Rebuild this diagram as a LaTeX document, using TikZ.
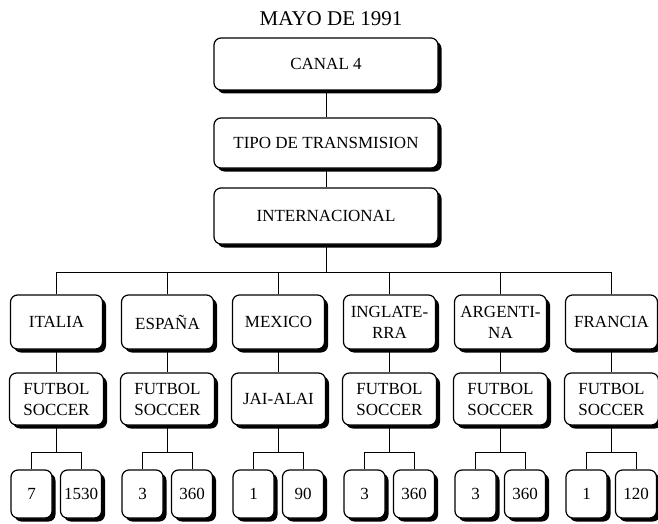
\documentclass[tikz,border=0pt]{standalone}
\usepackage{fontspec}
\setmainfont{Liberation Serif}
\usetikzlibrary{shadows}
\begin{document}
\begin{tikzpicture}[x=1pt,y=-1pt,
  box/.style={draw, line width=1.2pt, rounded corners=7pt, fill=white, align=center,
    inner sep=0pt, font=\fontsize{17}{21}\selectfont,
    drop shadow={shadow xshift=3.5pt, shadow yshift=-3.5pt, fill=black, opacity=1}},
  topbox/.style={box, minimum width=224pt},
  cbox/.style={box, minimum width=92pt, minimum height=54pt},
  sbox/.style={box, minimum width=94pt, minimum height=52pt},
  nbox/.style={box, minimum width=41pt, minimum height=48pt},
  conn/.style={line width=0.9pt}]
\useasboundingbox (0,0) rectangle (658,524);
\node[font=\fontsize{21}{24}\selectfont] (title) at (331,19) {MAYO DE 1991};
\node[topbox, minimum height=52pt] (canal) at (326,64) {CANAL 4};
\node[topbox, minimum height=50pt] (tipo) at (326,143) {TIPO DE TRANSMISION};
\node[topbox, minimum height=56pt] (inter) at (326,216) {INTERNACIONAL};
\coordinate (busy) at (0,272);
\coordinate (suby) at (0,452);
\foreach \i/\c/\country/\sport/\na/\nb in {
  1/56.5/ITALIA/{FUTBOL\\SOCCER}/7/1530,
  2/167.5/ESPAÑA/{FUTBOL\\SOCCER}/3/360,
  3/278.5/MEXICO/{JAI-ALAI}/1/90,
  4/389.5/{INGLATE-\\RRA}/{FUTBOL\\SOCCER}/3/360,
  5/500.5/{ARGENTI-\\NA}/{FUTBOL\\SOCCER}/3/360,
  6/611.5/FRANCIA/{FUTBOL\\SOCCER}/1/120}{
  \node[cbox] (c\i) at (\c,322) {\country};
  \node[sbox] (s\i) at (\c,399) {\sport};
  \node[nbox] (na\i) at (\c-25,494) {\na};
  \node[nbox] (nb\i) at (\c+24.5,494) {\nb};
}
\draw[conn] (canal.south) -- (tipo.north);
\draw[conn] (tipo.south) -- (inter.north);
\foreach \i in {1,...,6}{
  \draw[conn] (inter.south) -- (inter.south |- busy) -| (c\i.north);
  \draw[conn] (c\i.south) -- (s\i.north);
  \draw[conn] (s\i.south) -- (s\i.south |- suby) -| (na\i.north);
  \draw[conn] (s\i.south) -- (s\i.south |- suby) -| (nb\i.north);
}
\end{tikzpicture}
\end{document}
